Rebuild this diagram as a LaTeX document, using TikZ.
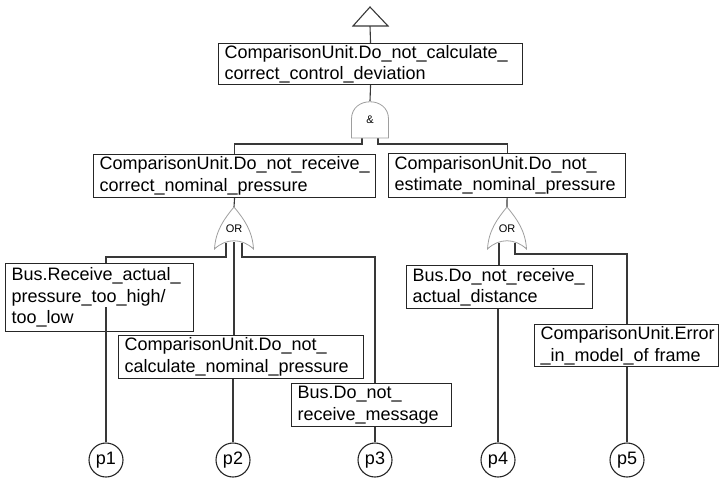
\documentclass[tikz,border=0pt]{standalone}
\usepackage{fontspec}
\setmainfont{Liberation Sans}
\usetikzlibrary{backgrounds}

\tikzset{
  % AND gate: apex of the dome at (0,0), inputs hang below
  andgate/.pic={
    \draw[gate] (-18.5,37) -- (-18.5,18) .. controls (-18.5,-5) and (18.5,-5) .. (18.5,18) -- (18.5,37) -- cycle;
    \node[glabel] at (0,19) {\&};
    \coordinate (-top) at (0,0);
    \coordinate (-l) at (-8,37);
    \coordinate (-r) at (8,37);
  },
  % OR gate: pointed apex at (0,0), concave base
  orgate/.pic={
    \draw[gate] (-19.5,42) .. controls (-18.5,24) and (-10,12) .. (0,0)
                .. controls (10,12) and (18.5,24) .. (19.5,42)
                .. controls (8,31) and (-8,31) .. cycle;
    \node[glabel] at (0,22) {OR};
    \coordinate (-top) at (0,0);
    \coordinate (-l) at (-8,36);
    \coordinate (-m) at (0,35);
    \coordinate (-r) at (8,36);
  }
}

\begin{document}
\begin{tikzpicture}[x=1pt,y=-1pt,
  gate/.style={draw=black!38, line width=0.8pt, fill=white},
  glabel/.style={font=\fontsize{11}{13}\selectfont, inner sep=0pt},
  box/.style={draw=black!85, line width=1.1pt, fill=white, anchor=north west,
    align=left, inner xsep=6pt, inner ysep=0pt,
    font=\fontsize{18}{21.5}\selectfont},
  wire/.style={draw=black!78, line width=1.1pt},
  event/.style={circle, draw=black!85, line width=1.1pt, fill=white,
    minimum size=34pt, inner sep=0pt, font=\fontsize{18}{20}\selectfont}]
\useasboundingbox (0,0) rectangle (719,480);

% transfer symbol on top
\draw[wire, fill=white] (370,7) -- (388,26) -- (353,26) -- cycle;
\coordinate (transfer) at (370,26);

% events
\node[box, text width=292pt, minimum height=41pt] (b0) at (218,43)
  {ComparisonUnit.Do\_not\_calculate\_\\correct\_control\_deviation};
\node[box, text width=270pt, minimum height=43pt] (b1) at (93,154)
  {ComparisonUnit.Do\_not\_receive\_\\correct\_nominal\_pressure};
\node[box, text width=225pt, minimum height=44pt] (b2) at (388,153)
  {ComparisonUnit.Do\_not\_\\estimate\_nominal\_pressure};
\node[box, text width=176pt, minimum height=68pt] (b3) at (5,263)
  {Bus.Receive\_actual\_\\pressure\_too\_high/\\too\_low};
\node[box, text width=233pt, minimum height=43pt] (b4) at (118,335)
  {ComparisonUnit.Do\_not\_\\calculate\_nominal\_pressure};
\node[box, text width=148pt, minimum height=43pt] (b5) at (291,383)
  {Bus.Do\_not\_\\receive\_message};
\node[box, text width=174pt, minimum height=43pt] (b6) at (406,265)
  {Bus.Do\_not\_receive\_\\actual\_distance};
\node[box, text width=172pt, minimum height=42pt] (b7) at (534,324)
  {ComparisonUnit.Error\\\_in\_model\_of frame};

% gates
\pic (ag) at (370,101) {andgate};
\pic (og1) at (234,207) {orgate};
\pic (og2) at (507,207) {orgate};

% basic events
\node[event] (p1) at (106,460) {p1};
\node[event] (p2) at (233,460) {p2};
\node[event] (p3) at (375,460) {p3};
\node[event] (p4) at (498,460) {p4};
\node[event] (p5) at (627,460) {p5};

\coordinate (p1end) at (106,307);

\begin{scope}[on background layer]
  \draw[wire] (transfer) -- (b0.north);
  \draw[wire] (b0.south) -- (ag-top);
  \draw[wire] (ag-l) -- ++(0,6) -| (b1.north);
  \draw[wire] (ag-r) -- ++(0,6) -| (b2.north);
  \draw[wire] (b1.south) -- (og1-top);
  \draw[wire] (b2.south) -- (og2-top);
  % left OR gate
  \draw[wire] (og1-l) |- (p1 |- 0,257) -- (p1 |- b3.north);
  \draw[wire] (og1-m) -- (og1-m |- b4.north);
  \draw[wire] (og1-r) |- (p3 |- 0,257) -- (p3 |- b5.north);
  % right OR gate
  \draw[wire] (og2-l) -- (og2-l |- b6.north);
  \draw[wire] (og2-r) |- (p5 |- 0,254) -- (p5 |- b7.north);
  % down to the basic events
  \draw[wire] (p2 |- b4.south) -- (p2.north);
  \draw[wire] (p3 |- b5.south) -- (p3.north);
  \draw[wire] (p4 |- b6.south) -- (p4.north);
  \draw[wire] (p5 |- b7.south) -- (p5.north);
\end{scope}

\draw[wire] (p1.north) -- (p1end);

\end{tikzpicture}
\end{document}
